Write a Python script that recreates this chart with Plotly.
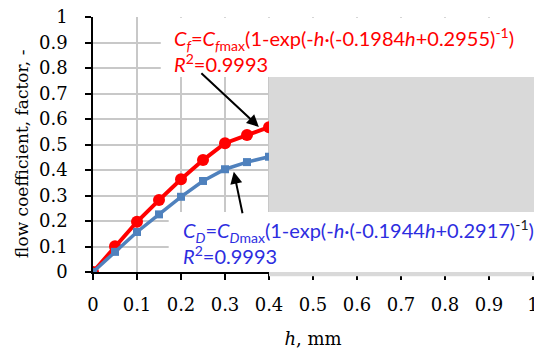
import plotly.graph_objects as go

h = [0, 0.05, 0.1, 0.15, 0.2, 0.25, 0.3, 0.35, 0.4]
cf = [0, 0.101, 0.197, 0.282, 0.364, 0.439, 0.505, 0.537, 0.568]
cd = [0, 0.079, 0.157, 0.226, 0.295, 0.357, 0.403, 0.431, 0.452]

RED = "#FF0000"
BLUE_LINE = "#4F81BD"
BLUE_TXT = "#2D2DE0"
SERIF = "DejaVu Serif"
SANS = "Lato"

fig = go.Figure()
fig.add_trace(go.Scatter(x=h, y=cf, mode="lines+markers",
                         line=dict(color=RED, width=4),
                         marker=dict(symbol="circle", size=12, color=RED)))
fig.add_trace(go.Scatter(x=h, y=cd, mode="lines+markers",
                         line=dict(color=BLUE_LINE, width=3.5),
                         marker=dict(symbol="square", size=8, color=BLUE_LINE)))

shapes = [
    dict(type="rect", xref="paper", yref="paper", x0=0.4, x1=1.02, y0=-0.017, y1=0.765,
         fillcolor="#D9D9D9", line=dict(width=0), layer="above"),
    dict(type="rect", xref="paper", yref="paper", x0=0.154, x1=1.02, y0=0.765, y1=0.997,
         fillcolor="white", line=dict(width=0), layer="above"),
    dict(type="rect", xref="paper", yref="paper", x0=0.172, x1=1.02, y0=0.0, y1=0.235,
         fillcolor="white", line=dict(width=0), layer="above"),
]

red_l1 = "<i>C<sub>f</sub></i>=<i>C<sub>f</sub></i><sub>max</sub>(1-exp(-<i>h</i>·(-0.1984<i>h</i>+0.2955)<sup>-1</sup>)"
red_l2 = "<i>R</i><sup>2</sup>=0.9993"
blue_l1 = ("<i>C<sub>D</sub></i>=<i>C<sub>D</sub></i><sub>max</sub>(1-exp(-<i>h</i>·(-0.1944<i>h</i>+0.2917)"
           "<span style='color:#222222'><sup>-1</sup></span>)")
blue_l2 = "<i>R</i><sup>2</sup>=0.9993"

def txt(x, y, t, color):
    return dict(xref="paper", yref="paper", x=x, y=y, xanchor="left", yanchor="middle",
                text=t, showarrow=False, align="left",
                font=dict(family=SANS, size=20, color=color))

annotations = [
    txt(0.18, 0.915, red_l1, RED),
    txt(0.18, 0.82, red_l2, RED),
    txt(0.2, 0.16, blue_l1, BLUE_TXT),
    txt(0.2, 0.066, blue_l2, BLUE_TXT),
    dict(xref="x", yref="y", x=0.377, y=0.569, ax=-59, ay=-55, text="", showarrow=True,
         arrowhead=2, arrowsize=1.2, arrowwidth=2, arrowcolor="black", standoff=0),
    dict(xref="x", yref="y", x=0.320, y=0.393, ax=9, ay=43, text="", showarrow=True,
         arrowhead=2, arrowsize=1.2, arrowwidth=2, arrowcolor="black", standoff=0),
    dict(xref="paper", yref="paper", x=-0.162, y=0.462, xanchor="center", yanchor="middle",
         text="flow coefficient, factor, -", textangle=-90, showarrow=False,
         font=dict(family=SERIF, size=17, color="black")),
]

axis_common = dict(showgrid=True, gridcolor="#C8C8C8", gridwidth=1.5,
                   showline=True, linecolor="black", linewidth=1.5,
                   ticks="outside", ticklen=6, tickcolor="black", tickwidth=1.5,
                   zeroline=False, tickfont=dict(family=SERIF, size=18, color="black"),
                   dtick=0.1, tick0=0, ticklabeloverflow="allow")

fig.update_layout(
    width=534, height=349,
    margin=dict(l=93, r=1, t=17, b=77),
    paper_bgcolor="white", plot_bgcolor="white",
    showlegend=False,
    shapes=shapes, annotations=annotations,
    xaxis=dict(range=[0, 1], ticklabelstandoff=10,
               title=dict(text="<i>h</i>, mm", font=dict(family=SERIF, size=18, color="black"), standoff=20),
               **axis_common),
    yaxis=dict(range=[0, 1], ticklabelstandoff=14, **axis_common),
)
fig.update_xaxes(automargin=False)
fig.update_yaxes(automargin=False)

fig.write_html("out.html")
